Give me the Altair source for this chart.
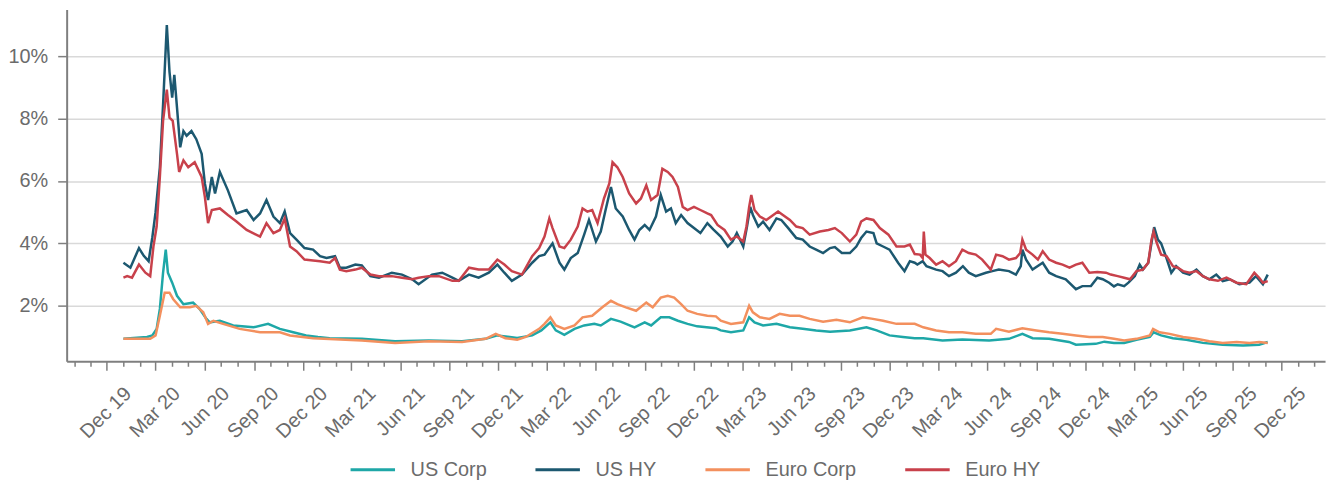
import altair as alt
import pandas as pd

SERIES = ["US Corp", "US HY", "Euro Corp", "Euro HY"]
COLORS = ["#1ea7a7", "#1c5870", "#f3905e", "#c8414b"]

US_CORP = [
    ("2020-01-01", 0.94), ("2020-02-14", 1.00), ("2020-02-24", 1.05), ("2020-03-03", 1.26),
    ("2020-03-09", 1.90), ("2020-03-15", 3.06), ("2020-03-20", 3.80), ("2020-03-24", 3.06),
    ("2020-04-01", 2.74), ("2020-04-10", 2.32), ("2020-04-22", 2.05), ("2020-05-10", 2.10),
    ("2020-05-22", 1.90), ("2020-06-04", 1.58), ("2020-06-10", 1.47), ("2020-06-29", 1.52),
    ("2020-07-24", 1.37), ("2020-08-31", 1.31), ("2020-09-27", 1.42), ("2020-10-19", 1.26),
    ("2020-11-13", 1.15), ("2020-12-07", 1.05), ("2020-12-29", 1.00), ("2021-01-20", 0.96),
    ("2021-03-21", 0.94), ("2021-05-22", 0.86), ("2021-07-24", 0.89), ("2021-09-24", 0.86),
    ("2021-11-07", 0.94), ("2021-11-29", 1.05), ("2022-01-05", 0.97), ("2022-02-02", 1.05),
    ("2022-02-19", 1.21), ("2022-03-08", 1.47), ("2022-03-18", 1.21), ("2022-04-03", 1.07),
    ("2022-04-22", 1.26), ("2022-05-10", 1.37), ("2022-05-29", 1.42), ("2022-06-10", 1.37),
    ("2022-06-29", 1.58), ("2022-07-17", 1.49), ("2022-08-12", 1.31), ("2022-08-31", 1.47),
    ("2022-09-12", 1.37), ("2022-09-30", 1.63), ("2022-10-16", 1.63), ("2022-11-01", 1.52),
    ("2022-11-19", 1.42), ("2022-12-07", 1.34), ("2023-01-11", 1.28), ("2023-01-20", 1.21),
    ("2023-02-08", 1.15), ("2023-03-03", 1.21), ("2023-03-14", 1.63), ("2023-03-24", 1.47),
    ("2023-04-09", 1.37), ("2023-05-04", 1.42), ("2023-05-29", 1.31), ("2023-06-22", 1.26),
    ("2023-07-17", 1.21), ("2023-08-12", 1.17), ("2023-09-18", 1.21), ("2023-10-19", 1.31),
    ("2023-11-07", 1.21), ("2023-12-01", 1.05), ("2023-12-26", 1.00), ("2024-01-17", 0.96),
    ("2024-02-02", 0.96), ("2024-03-09", 0.89), ("2024-04-15", 0.92), ("2024-06-04", 0.89),
    ("2024-07-11", 0.94), ("2024-08-05", 1.10), ("2024-08-24", 0.96), ("2024-09-24", 0.94),
    ("2024-10-31", 0.84), ("2024-11-13", 0.75), ("2024-12-20", 0.78), ("2025-01-05", 0.85),
    ("2025-01-23", 0.81), ("2025-02-11", 0.81), ("2025-03-06", 0.91), ("2025-03-31", 1.00),
    ("2025-04-07", 1.15), ("2025-04-21", 1.05), ("2025-05-13", 0.96), ("2025-06-07", 0.91),
    ("2025-07-08", 0.81), ("2025-08-14", 0.75), ("2025-09-21", 0.73), ("2025-10-21", 0.75),
    ("2025-11-06", 0.84),
]

US_HY = [
    ("2020-01-01", 3.38), ("2020-01-14", 3.22), ("2020-01-30", 3.85), ("2020-02-08", 3.60),
    ("2020-02-17", 3.43), ("2020-02-24", 4.20), ("2020-03-01", 5.00), ("2020-03-09", 6.44),
    ("2020-03-15", 8.45), ("2020-03-22", 11.0), ("2020-03-27", 9.50), ("2020-04-01", 8.67),
    ("2020-04-05", 9.40), ("2020-04-10", 8.35), ("2020-04-16", 7.08), ("2020-04-22", 7.60),
    ("2020-04-28", 7.45), ("2020-05-07", 7.60), ("2020-05-16", 7.34), ("2020-05-26", 6.87),
    ("2020-06-01", 5.92), ("2020-06-07", 5.39), ("2020-06-14", 6.13), ("2020-06-20", 5.60),
    ("2020-06-29", 6.29), ("2020-07-14", 5.70), ("2020-07-30", 4.96), ("2020-08-18", 5.07),
    ("2020-08-31", 4.75), ("2020-09-12", 4.96), ("2020-09-24", 5.39), ("2020-10-07", 4.86),
    ("2020-10-19", 4.65), ("2020-10-28", 5.02), ("2020-11-07", 4.33), ("2020-11-19", 4.12),
    ("2020-12-04", 3.85), ("2020-12-20", 3.80), ("2021-01-02", 3.59), ("2021-01-14", 3.53),
    ("2021-01-30", 3.59), ("2021-02-08", 3.22), ("2021-02-20", 3.22), ("2021-03-09", 3.32),
    ("2021-03-21", 3.29), ("2021-04-06", 2.95), ("2021-04-22", 2.90), ("2021-05-16", 3.06),
    ("2021-06-04", 3.00), ("2021-06-23", 2.85), ("2021-07-05", 2.69), ("2021-07-30", 3.00),
    ("2021-08-18", 3.06), ("2021-09-06", 2.90), ("2021-09-18", 2.80), ("2021-10-07", 3.00),
    ("2021-10-25", 2.90), ("2021-11-13", 3.06), ("2021-11-29", 3.32), ("2021-12-12", 3.06),
    ("2021-12-26", 2.80), ("2022-01-14", 3.00), ("2022-02-02", 3.38), ("2022-02-15", 3.59),
    ("2022-02-25", 3.64), ("2022-03-12", 4.00), ("2022-03-25", 3.38), ("2022-04-03", 3.16),
    ("2022-04-15", 3.53), ("2022-04-28", 3.69), ("2022-05-10", 4.28), ("2022-05-19", 4.75),
    ("2022-06-01", 4.06), ("2022-06-10", 4.38), ("2022-06-19", 5.07), ("2022-06-29", 5.81),
    ("2022-07-08", 5.12), ("2022-07-21", 4.86), ("2022-08-02", 4.43), ("2022-08-12", 4.12),
    ("2022-08-21", 4.43), ("2022-08-31", 4.59), ("2022-09-09", 4.43), ("2022-09-21", 4.86),
    ("2022-09-30", 5.55), ("2022-10-10", 5.02), ("2022-10-19", 5.12), ("2022-10-28", 4.65),
    ("2022-11-07", 4.91), ("2022-11-19", 4.65), ("2022-12-01", 4.49), ("2022-12-13", 4.33),
    ("2022-12-26", 4.65), ("2023-01-06", 4.45), ("2023-01-20", 4.22), ("2023-02-02", 3.90),
    ("2023-02-11", 4.06), ("2023-02-19", 4.33), ("2023-03-03", 3.90), ("2023-03-10", 4.54),
    ("2023-03-16", 5.17), ("2023-03-21", 4.91), ("2023-03-31", 4.54), ("2023-04-09", 4.70),
    ("2023-04-21", 4.43), ("2023-05-04", 4.80), ("2023-05-13", 4.75), ("2023-05-26", 4.49),
    ("2023-06-10", 4.17), ("2023-06-22", 4.12), ("2023-07-05", 3.90), ("2023-07-17", 3.80),
    ("2023-07-30", 3.69), ("2023-08-12", 3.85), ("2023-08-21", 3.88), ("2023-09-03", 3.69),
    ("2023-09-18", 3.69), ("2023-09-30", 3.90), ("2023-10-09", 4.17), ("2023-10-19", 4.38),
    ("2023-11-01", 4.33), ("2023-11-07", 4.00), ("2023-11-19", 3.90), ("2023-12-01", 3.80),
    ("2023-12-17", 3.38), ("2023-12-29", 3.11), ("2024-01-08", 3.43), ("2024-01-17", 3.38),
    ("2024-01-22", 3.32), ("2024-02-01", 3.43), ("2024-02-08", 3.27), ("2024-02-26", 3.16),
    ("2024-03-09", 3.11), ("2024-03-21", 2.95), ("2024-04-03", 3.06), ("2024-04-16", 3.27),
    ("2024-04-27", 3.06), ("2024-05-10", 2.95), ("2024-05-29", 3.06), ("2024-06-10", 3.11),
    ("2024-06-22", 3.16), ("2024-07-11", 3.11), ("2024-07-24", 3.00), ("2024-08-02", 3.27),
    ("2024-08-05", 3.80), ("2024-08-12", 3.48), ("2024-08-24", 3.16), ("2024-09-12", 3.38),
    ("2024-09-24", 3.06), ("2024-10-07", 2.95), ("2024-10-25", 2.85), ("2024-11-13", 2.53),
    ("2024-11-25", 2.63), ("2024-12-11", 2.63), ("2024-12-23", 2.90), ("2025-01-02", 2.85),
    ("2025-01-14", 2.74), ("2025-01-23", 2.62), ("2025-01-30", 2.69), ("2025-02-11", 2.63),
    ("2025-02-19", 2.74), ("2025-03-03", 2.95), ("2025-03-12", 3.32), ("2025-03-18", 3.16),
    ("2025-03-28", 3.38), ("2025-04-05", 4.22), ("2025-04-08", 4.52), ("2025-04-15", 4.12),
    ("2025-04-21", 4.00), ("2025-05-01", 3.53), ("2025-05-10", 3.06), ("2025-05-19", 3.27),
    ("2025-06-01", 3.06), ("2025-06-13", 3.00), ("2025-06-26", 3.16), ("2025-07-08", 2.95),
    ("2025-07-20", 2.85), ("2025-08-02", 3.00), ("2025-08-14", 2.79), ("2025-08-27", 2.85),
    ("2025-09-14", 2.69), ("2025-10-03", 2.74), ("2025-10-15", 2.95), ("2025-10-28", 2.69),
    ("2025-11-06", 3.00),
]

EURO_CORP = [
    ("2020-01-01", 0.94), ("2020-02-20", 0.94), ("2020-03-01", 1.05), ("2020-03-09", 1.68),
    ("2020-03-18", 2.42), ("2020-03-27", 2.42), ("2020-04-03", 2.21), ("2020-04-16", 1.95),
    ("2020-05-04", 1.95), ("2020-05-16", 2.00), ("2020-05-29", 1.79), ("2020-06-07", 1.42),
    ("2020-06-17", 1.52), ("2020-07-05", 1.42), ("2020-08-05", 1.26), ("2020-09-12", 1.15),
    ("2020-10-19", 1.15), ("2020-11-07", 1.05), ("2020-12-20", 0.96), ("2021-03-21", 0.89),
    ("2021-05-22", 0.81), ("2021-07-24", 0.86), ("2021-09-24", 0.84), ("2021-11-07", 0.94),
    ("2021-11-26", 1.10), ("2021-12-14", 0.96), ("2022-01-05", 0.91), ("2022-01-21", 1.00),
    ("2022-02-15", 1.26), ("2022-02-25", 1.42), ("2022-03-08", 1.63), ("2022-03-18", 1.37),
    ("2022-04-03", 1.26), ("2022-04-22", 1.37), ("2022-05-07", 1.63), ("2022-05-25", 1.68),
    ("2022-06-13", 1.95), ("2022-06-29", 2.16), ("2022-07-11", 2.05), ("2022-07-27", 1.95),
    ("2022-08-15", 1.84), ("2022-09-03", 2.10), ("2022-09-15", 1.95), ("2022-09-30", 2.26),
    ("2022-10-13", 2.32), ("2022-10-25", 2.26), ("2022-11-07", 2.05), ("2022-11-19", 1.84),
    ("2022-12-07", 1.74), ("2022-12-26", 1.68), ("2023-01-11", 1.66), ("2023-01-20", 1.52),
    ("2023-02-08", 1.42), ("2023-03-03", 1.47), ("2023-03-14", 2.00), ("2023-03-21", 1.79),
    ("2023-04-03", 1.63), ("2023-04-21", 1.58), ("2023-05-10", 1.74), ("2023-05-29", 1.68),
    ("2023-06-16", 1.68), ("2023-07-05", 1.58), ("2023-07-30", 1.49), ("2023-08-24", 1.55),
    ("2023-09-18", 1.47), ("2023-10-12", 1.63), ("2023-10-31", 1.58), ("2023-11-19", 1.52),
    ("2023-12-14", 1.42), ("2024-01-17", 1.42), ("2024-02-02", 1.31), ("2024-02-26", 1.21),
    ("2024-03-21", 1.15), ("2024-04-15", 1.15), ("2024-05-10", 1.10), ("2024-06-07", 1.10),
    ("2024-06-17", 1.26), ("2024-07-11", 1.17), ("2024-08-05", 1.28), ("2024-08-31", 1.21),
    ("2024-09-24", 1.15), ("2024-10-19", 1.10), ("2024-11-13", 1.05), ("2024-12-08", 1.00),
    ("2025-01-02", 1.00), ("2025-01-23", 0.94), ("2025-02-11", 0.89), ("2025-03-06", 0.94),
    ("2025-03-31", 1.05), ("2025-04-06", 1.26), ("2025-04-18", 1.15), ("2025-05-07", 1.10),
    ("2025-06-01", 1.00), ("2025-06-26", 0.94), ("2025-07-20", 0.86), ("2025-08-14", 0.81),
    ("2025-09-09", 0.84), ("2025-10-03", 0.81), ("2025-10-21", 0.84), ("2025-11-06", 0.81),
]

EURO_HY = [
    ("2020-01-01", 2.90), ("2020-01-08", 2.95), ("2020-01-17", 2.90), ("2020-01-30", 3.32),
    ("2020-02-11", 3.06), ("2020-02-20", 2.95), ("2020-02-26", 3.90), ("2020-03-03", 4.54),
    ("2020-03-09", 6.13), ("2020-03-15", 7.93), ("2020-03-22", 8.93), ("2020-03-27", 8.03),
    ("2020-04-02", 7.93), ("2020-04-10", 6.87), ("2020-04-14", 6.29), ("2020-04-22", 6.66),
    ("2020-05-01", 6.44), ("2020-05-13", 6.60), ("2020-05-26", 6.13), ("2020-06-01", 5.49),
    ("2020-06-07", 4.65), ("2020-06-14", 5.07), ("2020-06-29", 5.12), ("2020-07-14", 4.91),
    ("2020-07-30", 4.70), ("2020-08-18", 4.43), ("2020-09-12", 4.22), ("2020-09-24", 4.65),
    ("2020-10-07", 4.33), ("2020-10-19", 4.43), ("2020-10-28", 4.80), ("2020-11-07", 3.90),
    ("2020-11-19", 3.75), ("2020-12-04", 3.48), ("2020-12-20", 3.45), ("2021-01-02", 3.43),
    ("2021-01-20", 3.38), ("2021-01-30", 3.53), ("2021-02-08", 3.16), ("2021-02-20", 3.11),
    ("2021-03-09", 3.16), ("2021-03-21", 3.22), ("2021-04-06", 3.00), ("2021-04-22", 2.95),
    ("2021-05-16", 2.95), ("2021-06-04", 2.90), ("2021-06-23", 2.85), ("2021-07-05", 2.90),
    ("2021-07-24", 2.95), ("2021-08-12", 2.95), ("2021-09-06", 2.80), ("2021-09-18", 2.80),
    ("2021-10-07", 3.22), ("2021-10-25", 3.16), ("2021-11-13", 3.16), ("2021-11-29", 3.48),
    ("2021-12-12", 3.32), ("2021-12-26", 3.11), ("2022-01-14", 3.00), ("2022-02-02", 3.59),
    ("2022-02-15", 3.85), ("2022-02-25", 4.22), ("2022-03-06", 4.80), ("2022-03-12", 4.49),
    ("2022-03-25", 3.90), ("2022-04-03", 3.85), ("2022-04-15", 4.12), ("2022-04-28", 4.54),
    ("2022-05-07", 5.12), ("2022-05-16", 5.02), ("2022-05-25", 5.07), ("2022-06-04", 4.65),
    ("2022-06-16", 5.44), ("2022-06-26", 5.92), ("2022-07-02", 6.60), ("2022-07-11", 6.44),
    ("2022-07-21", 6.13), ("2022-08-02", 5.60), ("2022-08-15", 5.28), ("2022-08-24", 5.44),
    ("2022-09-03", 5.86), ("2022-09-12", 5.39), ("2022-09-24", 5.55), ("2022-10-03", 6.39),
    ("2022-10-13", 6.29), ("2022-10-22", 6.13), ("2022-11-01", 5.81), ("2022-11-10", 5.17),
    ("2022-11-19", 5.07), ("2022-12-01", 5.17), ("2022-12-13", 5.07), ("2022-12-26", 4.96),
    ("2023-01-02", 4.91), ("2023-01-14", 4.59), ("2023-01-27", 4.43), ("2023-02-08", 4.12),
    ("2023-02-19", 4.22), ("2023-03-03", 4.06), ("2023-03-09", 4.54), ("2023-03-14", 5.17),
    ("2023-03-18", 5.55), ("2023-03-24", 5.07), ("2023-04-03", 4.86), ("2023-04-15", 4.75),
    ("2023-04-28", 4.91), ("2023-05-07", 5.02), ("2023-05-16", 4.91), ("2023-05-29", 4.75),
    ("2023-06-10", 4.54), ("2023-06-22", 4.49), ("2023-07-05", 4.28), ("2023-07-24", 4.38),
    ("2023-08-09", 4.43), ("2023-08-21", 4.49), ("2023-09-03", 4.33), ("2023-09-18", 4.06),
    ("2023-09-30", 4.28), ("2023-10-09", 4.70), ("2023-10-19", 4.80), ("2023-11-01", 4.75),
    ("2023-11-13", 4.49), ("2023-11-29", 4.28), ("2023-12-14", 3.90), ("2023-12-29", 3.90),
    ("2024-01-08", 3.96), ("2024-01-17", 3.66), ("2024-01-27", 3.64), ("2024-02-01", 3.53),
    ("2024-02-03", 4.38), ("2024-02-06", 3.64), ("2024-02-14", 3.53), ("2024-02-26", 3.32),
    ("2024-03-09", 3.43), ("2024-03-21", 3.27), ("2024-04-03", 3.43), ("2024-04-15", 3.80),
    ("2024-04-27", 3.69), ("2024-05-10", 3.64), ("2024-05-22", 3.48), ("2024-06-07", 3.16),
    ("2024-06-17", 3.64), ("2024-06-29", 3.59), ("2024-07-11", 3.48), ("2024-07-24", 3.53),
    ("2024-08-01", 3.69), ("2024-08-05", 4.12), ("2024-08-12", 3.80), ("2024-08-24", 3.64),
    ("2024-09-03", 3.48), ("2024-09-12", 3.75), ("2024-09-24", 3.48), ("2024-10-07", 3.38),
    ("2024-10-19", 3.32), ("2024-11-01", 3.22), ("2024-11-13", 3.32), ("2024-11-25", 3.38),
    ("2024-12-08", 3.06), ("2024-12-23", 3.08), ("2025-01-08", 3.06), ("2025-01-17", 3.00),
    ("2025-01-30", 2.95), ("2025-02-11", 2.90), ("2025-02-22", 2.85), ("2025-03-06", 3.11),
    ("2025-03-18", 3.16), ("2025-03-28", 3.38), ("2025-04-03", 4.12), ("2025-04-07", 4.38),
    ("2025-04-12", 4.06), ("2025-04-21", 3.64), ("2025-05-01", 3.59), ("2025-05-13", 3.27),
    ("2025-05-22", 3.22), ("2025-06-01", 3.11), ("2025-06-13", 3.06), ("2025-06-26", 3.11),
    ("2025-07-08", 2.95), ("2025-07-20", 2.85), ("2025-08-05", 2.80), ("2025-08-21", 2.90),
    ("2025-09-09", 2.74), ("2025-09-27", 2.69), ("2025-10-12", 3.06), ("2025-10-21", 2.90),
    ("2025-10-28", 2.74), ("2025-11-06", 2.79),
]

Y_TICKS = [2, 4, 6, 8, 10]
X_START = (2019, 9, 17)
X_END = (2026, 2, 21)

rows = []
for name, series in zip(SERIES, [US_CORP, US_HY, EURO_CORP, EURO_HY]):
    for d, v in series:
        rows.append({"date": d, "value": v, "series": name})
df = pd.DataFrame(rows)

month_ticks = []
for yr in range(2019, 2027):
    for mo in range(1, 13):
        if (2019, 10) <= (yr, mo) <= (2026, 2):
            month_ticks.append(alt.DateTime(year=yr, month=mo, date=1))

AXIS_GRAY = "#7f7f7f"
LABEL_GRAY = "#6b6b6b"
FONT = "Liberation Sans"

quarter_test = "month(datum.value) % 3 == 2"

x_axis = alt.Axis(
    values=month_ticks,
    labelExpr=f"{quarter_test} ? timeFormat(datum.value, '%b %y') : ''",
    tickSize={"condition": {"test": quarter_test, "value": 9}, "value": 5},
    tickColor=AXIS_GRAY,
    tickWidth=1.5,
    domainColor=AXIS_GRAY,
    domainWidth=2,
    labelAngle=-45,
    labelAlign="right",
    labelBaseline="top",
    labelPadding=13,
    labelOffset=14,
    labelFontSize=20,
    labelFont=FONT,
    labelColor=LABEL_GRAY,
    labelOverlap=False,
    labelBound=False,
    grid=False,
    title=None,
)

y_axis = alt.Axis(
    values=Y_TICKS,
    labelExpr="datum.value + '%'",
    tickSize=9,
    tickColor=AXIS_GRAY,
    tickWidth=1.5,
    domainColor=AXIS_GRAY,
    domainWidth=2,
    labelPadding=10,
    labelFontSize=20,
    labelFont=FONT,
    labelColor=LABEL_GRAY,
    grid=True,
    gridColor="#d9d9d9",
    gridWidth=1.5,
    title=None,
)

chart = (
    alt.Chart(df)
    .mark_line(strokeWidth=2.5)
    .encode(
        x=alt.X(
            "date:T",
            scale=alt.Scale(
                domain=[
                    alt.DateTime(year=X_START[0], month=X_START[1], date=X_START[2]),
                    alt.DateTime(year=X_END[0], month=X_END[1], date=X_END[2]),
                ]
            ),
            axis=x_axis,
        ),
        y=alt.Y(
            "value:Q",
            scale=alt.Scale(domain=[0.22, 11.5], nice=False, zero=False),
            axis=y_axis,
        ),
        color=alt.Color(
            "series:N",
            scale=alt.Scale(domain=SERIES, range=COLORS),
            sort=SERIES,
            legend=alt.Legend(
                title=None,
                orient="none",
                direction="horizontal",
                legendX=284,
                legendY=439,
                symbolType="stroke",
                symbolSize=2000,
                symbolStrokeWidth=3,
                labelFontSize=20,
                labelFont=FONT,
                labelColor=LABEL_GRAY,
                labelOffset=14,
                columnPadding=42,
                padding=0,
            ),
        ),
    )
    .properties(
        width=1266,
        height=354,
        padding={"left": 59, "top": 0, "right": 8, "bottom": 120},
        autosize=alt.AutoSizeParams(type="none"),
    )
    .configure_view(stroke=None)
)

chart.save("out.html", embed_options={"renderer": "svg", "actions": False})
